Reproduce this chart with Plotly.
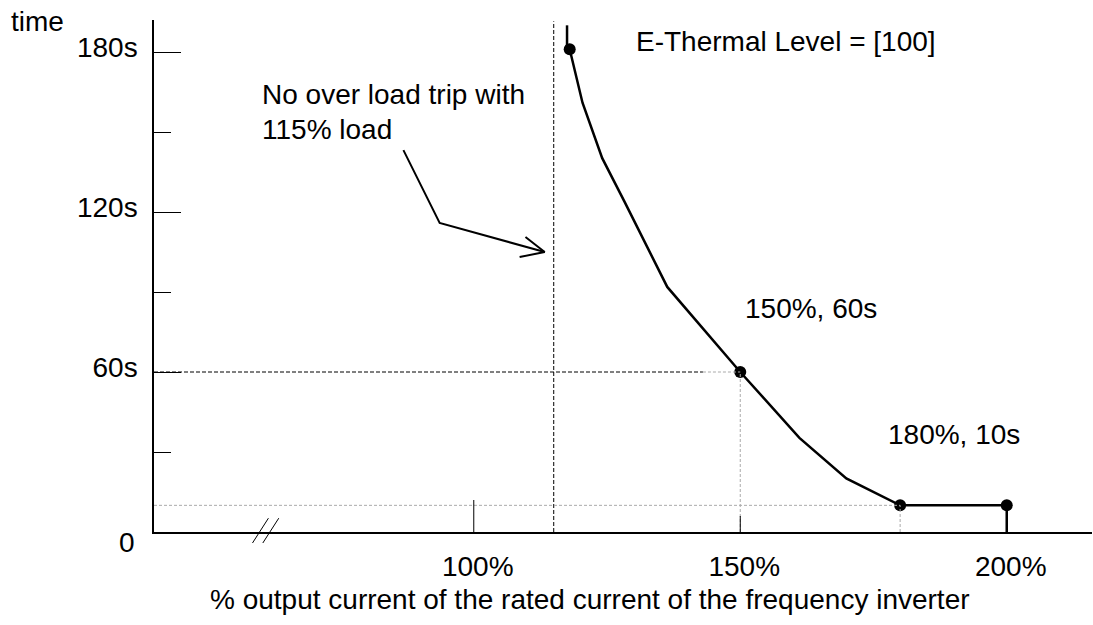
import plotly.graph_objects as go

# overload curve (x: % of rated current, y: seconds)
curve_x = [118.0, 120.4, 124.1, 128.3, 136.3, 150.0, 161.1, 169.9, 180.0, 200.0]
curve_y = [181.0, 161.0, 140.2, 123.8, 91.9, 60.0, 35.3, 20.1, 10.0, 10.0]
dot_x = [118.0, 150.0, 180.0, 200.0]
dot_y = [181.0, 60.0, 10.0, 10.0]

x_ticks = [100, 150, 200]
x_ticktext = ["100%", "150%", "200%"]
y_ticks = [60, 120, 180]
y_ticktext = ["60s", "120s", "180s"]
y_minor = [30, 90, 150]

no_trip_level = 115

FONT = "Liberation Sans, Arial, sans-serif"
FS = 28
X_RANGE = [40, 216]
Y_RANGE = [0, 192]

fig = go.Figure()

# curve + its vertical ends
fig.add_trace(go.Scatter(x=curve_x, y=curve_y, mode="lines",
                         line=dict(color="black", width=2.5), hoverinfo="skip"))
fig.add_trace(go.Scatter(x=[117.5, 117.5], y=[190, 181], mode="lines",
                         line=dict(color="black", width=2.5), hoverinfo="skip"))
fig.add_trace(go.Scatter(x=[200, 200], y=[10, 0], mode="lines",
                         line=dict(color="black", width=2.5), hoverinfo="skip"))

# guide lines
grey = dict(color="#aaaaaa", width=1, dash="3px,2px")
blk = dict(color="black", width=1, dash="4px,2px")
fig.add_shape(type="line", x0=no_trip_level, x1=no_trip_level, y0=0, y1=191.5, line=blk)
fig.add_shape(type="line", x0=X_RANGE[0], x1=143, y0=60, y1=60, line=blk)
fig.add_shape(type="line", x0=143, x1=150, y0=60, y1=60, line=grey)
fig.add_shape(type="line", x0=150, x1=150, y0=0, y1=60, line=grey)
fig.add_shape(type="line", x0=X_RANGE[0], x1=180, y0=10, y1=10, line=grey)
fig.add_shape(type="line", x0=180, x1=180, y0=0, y1=10, line=grey)

# x tick marks (drawn inward)
fig.add_shape(type="line", x0=100, x1=100, y0=0, y1=12, line=dict(color="black", width=1))
fig.add_shape(type="line", x0=150, x1=150, y0=0, y1=6, line=dict(color="black", width=1))

fig.add_trace(go.Scatter(x=dot_x, y=dot_y, mode="markers",
                         marker=dict(color="black", size=12), hoverinfo="skip"))

# arrow pointing at the 115% line
arrow_x = [86.8, 93.6, 113.3]
arrow_y = [143.2, 115.9, 105.0]
fig.add_trace(go.Scatter(x=arrow_x, y=arrow_y, mode="lines",
                         line=dict(color="black", width=2), hoverinfo="skip"))
fig.add_trace(go.Scatter(x=[109.7, 113.3, 108.6], y=[110.6, 105.0, 103.1], mode="lines",
                         line=dict(color="black", width=2), hoverinfo="skip"))

# axis break marks
for x0 in (0.105, 0.116):
    fig.add_shape(type="line", xref="x domain", yref="y domain",
                  x0=x0, y0=-0.0215, x1=x0 + 0.017, y1=0.027,
                  line=dict(color="black", width=1))

txt = dict(showarrow=False, font=dict(family=FONT, size=FS, color="black"))
fig.add_annotation(x=130.1, y=184.0, text="E-Thermal Level = [100]",
                   xanchor="left", yanchor="middle", **txt)
fig.add_annotation(x=59.9, y=163.9, text="No over load trip with",
                   xanchor="left", yanchor="middle", **txt)
fig.add_annotation(x=59.9, y=151.0, text="115% load",
                   xanchor="left", yanchor="middle", **txt)
fig.add_annotation(x=150.6, y=84, text="150%, 60s",
                   xanchor="left", yanchor="middle", **txt)
fig.add_annotation(x=177.4, y=36.4, text="180%, 10s",
                   xanchor="left", yanchor="middle", **txt)
fig.add_annotation(x=-0.0181, xref="paper", y=0, yshift=-10, text="0",
                   xanchor="right", yanchor="middle", **txt)
fig.add_annotation(x=-0.1546, xref="paper", y=0.998, yref="paper", text="time",
                   xanchor="left", yanchor="middle", **txt)
fig.add_annotation(x=0.4643, xref="paper", y=-0.132, yref="paper",
                   text="% output current of the rated current of the frequency inverter",
                   xanchor="center", yanchor="middle", **txt)

fig.update_layout(
    width=1093, height=625,
    margin=dict(l=154, r=1, t=20, b=93),
    paper_bgcolor="white", plot_bgcolor="white",
    showlegend=False,
    font=dict(family=FONT, size=FS, color="black"),
    xaxis=dict(range=X_RANGE, showgrid=False, zeroline=False,
               showline=True, linecolor="black", linewidth=1.5,
               tickvals=x_ticks, ticktext=x_ticktext, ticks="",
               ticklabelshift=4, ticklabelstandoff=9),
    yaxis=dict(range=Y_RANGE, showgrid=False, zeroline=False,
               showline=True, linecolor="black", linewidth=1.5,
               tickvals=y_ticks, ticktext=y_ticktext,
               ticks="inside", ticklen=27, tickwidth=1, tickcolor="black",
               minor=dict(tickvals=y_minor, ticks="inside", ticklen=17,
                          tickwidth=1, tickcolor="black", showgrid=False),
               ticklabelshift=-5, ticklabelstandoff=9),
)

fig.write_html("out.html", config={"displayModeBar": False},
               post_script="document.body.style.margin='0';")
